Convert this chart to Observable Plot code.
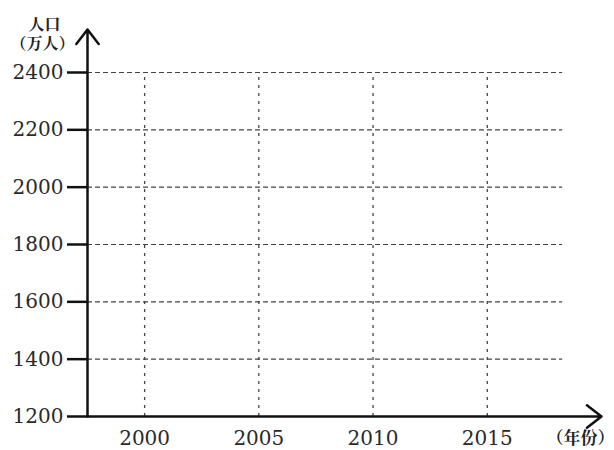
<!DOCTYPE html>
<html>
<head>
<meta charset="utf-8">
<script src="https://cdn.jsdelivr.net/npm/d3@7"></script>
<script src="https://cdn.jsdelivr.net/npm/@observablehq/plot@0.6"></script>
<style>
  html, body { margin: 0; padding: 0; background: #fff; }
  svg { display: block; }
</style>
</head>
<body>
<div id="chart"></div>
<script>
// Tick values (the chart is an empty grid)
const years = [2000, 2005, 2010, 2015];
const yTicks = [1200, 1400, 1600, 1800, 2000, 2200, 2400];
const yTickLabels = ["1200", "1400", "1600", "1800", "2000", "2200", "2400"];
const yTitle = ["人口", "（万人）"];
const xTitle = "（年份）";
// Axis extents in data units
const xDomain = [1997.5, 2020];
const yDomain = [1200, 2550];
const gridXEnd = 2018.3;
const gridYTop = 2400;

const serif = "DejaVu Serif";
const cjk = "Noto Serif CJK SC";

const chart = Plot.plot({
  width: 614,
  height: 450,
  marginLeft: 87,
  marginRight: 13,
  marginTop: 29,
  marginBottom: 34,
  style: { background: "#fff", color: "#111" },
  x: { domain: xDomain, axis: null },
  y: { domain: yDomain, axis: null },
  marks: [
    // dashed grid
    Plot.ruleY(yTicks.filter(d => d > yDomain[0]), {
      y: d => d, x1: xDomain[0], x2: gridXEnd,
      stroke: "#444", strokeWidth: 1.2, strokeDasharray: "5,3"
    }),
    Plot.ruleX(years, {
      x: d => d, y1: yDomain[0], y2: gridYTop,
      stroke: "#444", strokeWidth: 1.3, strokeDasharray: "3,5"
    }),
    // y tick marks (labels drawn below as text)
    Plot.axisY({
      ticks: yTicks,
      tickFormat: () => "",
      tickSize: 20,
      strokeWidth: 2.5, stroke: "#111",
      label: null
    }),
    // tick labels
    Plot.text(yTicks, {
      y: d => d, text: (d, i) => yTickLabels[i],
      frameAnchor: "left", dx: -24, textAnchor: "end", lineAnchor: "middle",
      fontSize: 20, fontFamily: serif, fill: "#2a2a2a"
    }),
    Plot.text(years, {
      x: d => d, text: d => String(d),
      frameAnchor: "bottom", dy: 22, textAnchor: "middle", lineAnchor: "middle",
      fontSize: 20, fontFamily: serif, fill: "#2a2a2a"
    }),
    // axis lines with arrows
    Plot.arrow([{x1: xDomain[0], y1: yDomain[0], x2: xDomain[1], y2: yDomain[0]}], {
      x1: "x1", y1: "y1", x2: "x2", y2: "y2",
      stroke: "#111", strokeWidth: 2.5, headLength: 11, headAngle: 75, clip: false
    }),
    Plot.arrow([{x1: xDomain[0], y1: yDomain[0], x2: xDomain[0], y2: yDomain[1]}], {
      x1: "x1", y1: "y1", x2: "x2", y2: "y2",
      stroke: "#111", strokeWidth: 2.5, headLength: 11, headAngle: 75, clip: false
    }),
    // axis titles
    Plot.text([yTitle[0]], {
      frameAnchor: "top-left", dx: -43, dy: -5,
      textAnchor: "middle", lineAnchor: "middle",
      fontSize: 16, fontWeight: "bold", fontFamily: cjk, fill: "#222"
    }),
    Plot.text([yTitle[1]], {
      frameAnchor: "top-left", dx: -45, dy: 14,
      textAnchor: "middle", lineAnchor: "middle",
      fontSize: 16, fontWeight: "bold", fontFamily: cjk, fill: "#222"
    }),
    Plot.text([xTitle], {
      frameAnchor: "bottom-right", dx: -21, dy: 22,
      textAnchor: "middle", lineAnchor: "middle",
      fontSize: 17, fontWeight: "bold", fontFamily: cjk, fill: "#222"
    })
  ]
});
document.getElementById("chart").appendChild(chart);
</script>
</body>
</html>
